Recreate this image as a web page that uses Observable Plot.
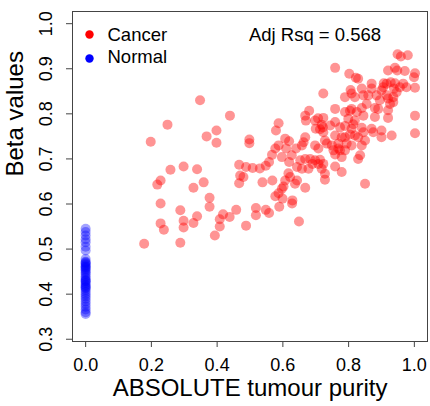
<!DOCTYPE html>
<html><head><meta charset="utf-8">
<script src="https://cdn.jsdelivr.net/npm/d3@7"></script>
<script src="https://cdn.jsdelivr.net/npm/@observablehq/plot@0.6"></script>
<style>body{margin:0;background:#fff}</style>
</head><body><div id="chart"></div>
<script>
const cancerPurity = [
0.178,0.198,0.218,0.228,0.228,0.228,0.238,0.249,0.258,0.288,0.288,0.298,0.298,0.298,0.328,0.328,0.339,0.339,0.348,0.359,
0.377,0.377,0.368,0.393,0.398,0.398,0.408,0.408,0.418,0.438,0.439,0.458,0.488,0.498,0.498,0.518,0.518,0.548,0.558,0.589,
0.628,0.649,0.467,0.488,0.508,0.530,0.548,0.558,0.470,0.480,0.467,0.538,0.568,0.587,0.579,0.607,0.619,0.587,0.577,0.567,
0.610,0.640,0.663,0.668,0.658,0.597,0.627,0.619,0.653,0.617,0.622,0.607,0.602,0.597,0.637,0.643,0.643,0.668,0.587,0.577,
0.599,0.629,0.668,0.680,0.670,0.707,0.700,0.722,0.723,0.668,0.683,0.690,0.658,0.678,0.708,0.718,0.698,0.708,0.718,0.698,
0.949,0.959,0.980,0.759,0.802,0.822,0.829,0.941,0.948,0.971,1.002,0.999,1.002,0.920,0.907,0.916,0.928,0.941,0.938,0.966,
0.976,0.946,0.806,0.840,0.870,0.900,0.809,0.845,0.860,0.885,0.916,0.920,0.895,0.936,0.789,0.819,0.759,0.809,0.855,0.890,
0.920,0.789,0.825,0.845,0.880,0.920,1.002,0.723,0.759,0.799,0.819,0.744,0.774,0.809,0.840,0.870,0.900,1.002,0.723,0.759,
0.779,0.804,0.819,0.845,0.875,0.900,0.931,0.728,0.749,0.769,0.794,0.809,0.850,0.840,0.754,0.774,0.759,0.779,0.835,0.829,
0.723,0.759,0.779,0.728,0.728,0.850,0.840,0.870,0.713,0.789,0.814,0.789,0.829,0.734,0.769,0.789,0.698,0.713,0.804,0.956,
0.905,0.926,0.880,0.936
];
const cancerBeta = [
0.512,0.738,0.643,0.652,0.601,0.557,0.543,0.776,0.676,0.586,0.514,0.683,0.563,0.548,0.636,0.558,0.677,0.573,0.830,0.648,
0.614,0.594,0.750,0.530,0.763,0.736,0.566,0.550,0.577,0.571,0.796,0.587,0.552,0.743,0.735,0.591,0.575,0.587,0.580,0.594,
0.601,0.561,0.687,0.682,0.680,0.679,0.685,0.693,0.663,0.660,0.646,0.648,0.652,0.779,0.763,0.745,0.739,0.730,0.723,0.709,
0.723,0.723,0.737,0.748,0.730,0.704,0.708,0.693,0.697,0.668,0.660,0.652,0.639,0.634,0.645,0.652,0.682,0.636,0.624,0.617,
0.612,0.608,0.796,0.807,0.785,0.790,0.767,0.770,0.845,0.700,0.700,0.689,0.678,0.678,0.689,0.678,0.730,0.723,0.776,0.785,
0.932,0.927,0.930,0.902,0.889,0.880,0.878,0.902,0.896,0.895,0.890,0.881,0.858,0.896,0.868,0.867,0.870,0.868,0.856,0.867,
0.859,0.848,0.853,0.856,0.856,0.852,0.845,0.841,0.841,0.841,0.841,0.834,0.830,0.826,0.837,0.837,0.811,0.811,0.822,0.811,
0.808,0.804,0.804,0.796,0.793,0.791,0.796,0.791,0.782,0.789,0.785,0.774,0.770,0.767,0.769,0.767,0.763,0.757,0.759,0.752,
0.748,0.754,0.752,0.759,0.759,0.748,0.752,0.741,0.730,0.734,0.734,0.730,0.741,0.730,0.719,0.719,0.710,0.704,0.708,0.700,
0.689,0.683,0.671,0.667,0.654,0.645,0.813,0.867,0.766,0.773,0.777,0.748,0.748,0.734,0.723,0.719,0.697,0.698,0.807,0.859,
0.859,0.822,0.813,0.837
];
const normalPurity = [
0,0,0,0,0,0,0,0,0,0,0,0,0,0,0,0,0,0,0,0,
0,0,0,0,0,0,0,0,0,0,0,0,0,0,0,0,0,0,0,0
];
const normalBeta = [
0.545,0.538,0.530,0.522,0.515,0.505,0.497,0.478,0.472,0.468,0.465,0.462,0.458,0.455,0.452,0.448,0.445,0.440,0.436,0.432,
0.428,0.425,0.421,0.418,0.414,0.410,0.405,0.400,0.395,0.390,0.384,0.378,0.372,0.366,0.360,0.356,0.470,0.460,0.430,0.415
];
const xTicks = [0.0, 0.2, 0.4, 0.6, 0.8, 1.0];
const yTicks = [0.3, 0.4, 0.5, 0.6, 0.7, 0.8, 0.9, 1.0];
const groups = ["Cancer", "Normal"];
const groupColors = ["#ff0000", "#0000ff"];
const xLabel = "ABSOLUTE tumour purity";
const yLabel = "Beta values";
const annotation = "Adj Rsq = 0.568";

const cancer = cancerPurity.map((p, i) => ({purity: p, beta: cancerBeta[i]}));
const normal = normalPurity.map((p, i) => ({purity: p, beta: normalBeta[i]}));

const chart = Plot.plot({
  width: 430, height: 406,
  marginLeft: 72, marginRight: 3, marginTop: 11, marginBottom: 65,
  style: {fontFamily: "'Liberation Sans', Arial, Helvetica, sans-serif", background: "#fff", color: "#000"},
  x: {domain: [-0.04, 1.04]},
  y: {domain: [0.295, 1.027]},
  marks: [
    Plot.dot(cancer, {x: "purity", y: "beta", r: 5, fill: groupColors[0], fillOpacity: 0.42, stroke: "none"}),
    Plot.dot(normal, {x: "purity", y: "beta", r: 5, fill: groupColors[1], fillOpacity: 0.36, stroke: "none"}),
    Plot.frame({stroke: "#444"}),
    Plot.axisX(xTicks, {tickSize: 6, tickPadding: 11, fontSize: 18, tickFormat: d => d.toFixed(1), label: null, stroke: "#444", fill: "#000"}),
    Plot.axisY(yTicks, {tickSize: 6, label: null, stroke: "#444", fill: "none"}),
    Plot.text(yTicks, {y: d => d, text: d => d.toFixed(1), frameAnchor: "left", dx: -26, rotate: -90, textAnchor: "middle", lineAnchor: "middle", fontSize: 18, fill: "#000"}),
    Plot.text([xLabel], {frameAnchor: "bottom", dy: 47, fontSize: 24, lineAnchor: "middle", fill: "#000"}),
    Plot.text([yLabel], {frameAnchor: "left", dx: -57, rotate: -90, fontSize: 24, lineAnchor: "middle", fill: "#000"}),
    Plot.dot([groups[0]], {frameAnchor: "top-left", dx: 17, dy: 23, r: 4.2, fill: groupColors[0]}),
    Plot.dot([groups[1]], {frameAnchor: "top-left", dx: 17, dy: 47, r: 4.2, fill: groupColors[1]}),
    Plot.text([groups[0]], {frameAnchor: "top-left", dx: 35, dy: 24, textAnchor: "start", lineAnchor: "middle", fontSize: 18.5, fill: "#000"}),
    Plot.text([groups[1]], {frameAnchor: "top-left", dx: 35, dy: 46, textAnchor: "start", lineAnchor: "middle", fontSize: 18.5, fill: "#000"}),
    Plot.text([annotation], {frameAnchor: "top", dx: 65, dy: 24, textAnchor: "middle", lineAnchor: "middle", fontSize: 18.5, fill: "#000"})
  ]
});
document.getElementById("chart").appendChild(chart);
</script>
</body></html>
